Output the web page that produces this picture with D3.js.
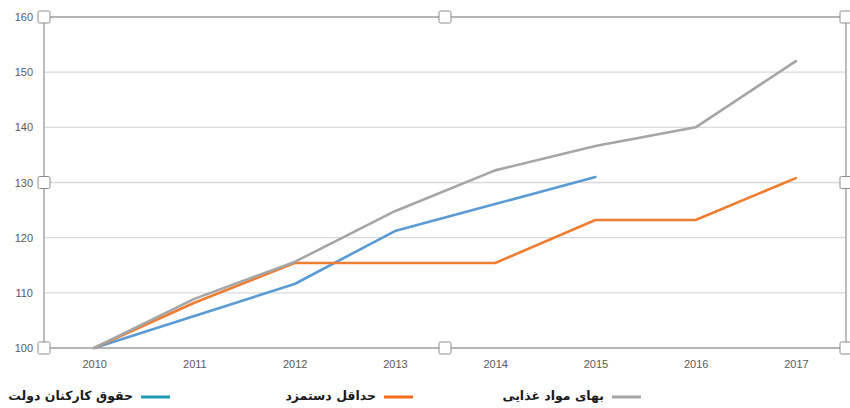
<!DOCTYPE html>
<html><head><meta charset="utf-8">
<script src="https://cdn.jsdelivr.net/npm/d3@7"></script>
<style>body{margin:0;background:#fff;}svg{display:block;}</style>
</head><body><svg id="c" width="850" height="408"></svg>
<script>
const years = ["2010","2011","2012","2013","2014","2015","2016","2017"];
const yTicks = [100,110,120,130,140,150,160];
const foodPrices = [100,108.9,115.6,124.8,132.2,136.6,140,152];
const minWage = [100,108.2,115.4,115.4,115.4,123.2,123.2,130.8];
const govSalary = [100,105.8,111.6,121.2,126.1,131];
const seriesNames = ["حقوق کارکنان دولت","حداقل دستمزد","بهای مواد غذایی"];

const svg = d3.select("#c");
const L=44,R=846,T=17,B=348;
const x = d3.scalePoint().domain(years).range([L,R]).padding(0.5);
const y = d3.scaleLinear().domain([100,160]).range([B,T]);

svg.append("g").selectAll("line").data(yTicks).join("line")
  .attr("x1",L).attr("x2",R).attr("y1",d=>y(d)).attr("y2",d=>y(d))
  .attr("stroke","#d9d9d9").attr("stroke-width",1.3);

svg.append("rect").attr("x",L).attr("y",T).attr("width",R-L).attr("height",B-T)
  .attr("fill","none").attr("stroke","#a6a6a6").attr("stroke-width",1.5);

const yAxis = d3.axisLeft(y).tickValues(yTicks).tickSize(0).tickPadding(11);
const gy = svg.append("g").attr("transform",`translate(${L},0)`).call(yAxis);
gy.select(".domain").remove();
gy.selectAll("text").attr("fill","#595959").style("font-family","Liberation Sans, Arial").style("font-size","11px");

const xAxis = d3.axisBottom(x).tickSize(0).tickPadding(12);
const gx = svg.append("g").attr("transform",`translate(0,${B})`).call(xAxis);
gx.select(".domain").remove();
gx.selectAll("text").attr("fill","#595959").style("font-family","Liberation Sans, Arial").style("font-size","11px");

const line = d3.line().x((d,i)=>x(years[i])).y(d=>y(d));
const data = [
  {v:govSalary,c:"#5b9bd5"},
  {v:minWage,c:"#ed7d31"},
  {v:foodPrices,c:"#a5a5a5"}
];
svg.append("g").selectAll("path").data(data).join("path")
  .attr("d",d=>line(d.v)).attr("fill","none").attr("stroke",d=>d.c)
  .attr("stroke-width",2.6).attr("stroke-linejoin","round").attr("stroke-linecap","round");

const handles = [[L,T],[(L+R)/2,T],[R,T],[L,(T+B)/2],[R,(T+B)/2],[L,B],[(L+R)/2,B],[R,B]];
svg.append("g").selectAll("rect").data(handles).join("rect")
  .attr("x",d=>d[0]-6).attr("y",d=>d[1]-6).attr("width",12).attr("height",12).attr("rx",1.5)
  .attr("fill","#fff").attr("stroke","#8c8c8c").attr("stroke-width",1);

const legend = [
  {t:seriesNames[0],c:"#1f9bb3",sx:141,tx:133},
  {t:seriesNames[1],c:"#f26b1d",sx:384,tx:376},
  {t:seriesNames[2],c:"#a5a5a5",sx:612,tx:604}
];
const lg = svg.append("g");
lg.selectAll("line").data(legend).join("line")
  .attr("x1",d=>d.sx).attr("x2",d=>d.sx+29).attr("y1",397).attr("y2",397)
  .attr("stroke",d=>d.c).attr("stroke-width",3);
lg.selectAll("text").data(legend).join("text")
  .attr("x",d=>d.tx).attr("y",400).attr("text-anchor","end")
  .style("font-family","DejaVu Sans").style("font-weight","bold").style("font-size","12.5px")
  .attr("fill","#1a1a1a").text(d=>d.t);
</script></body></html>
